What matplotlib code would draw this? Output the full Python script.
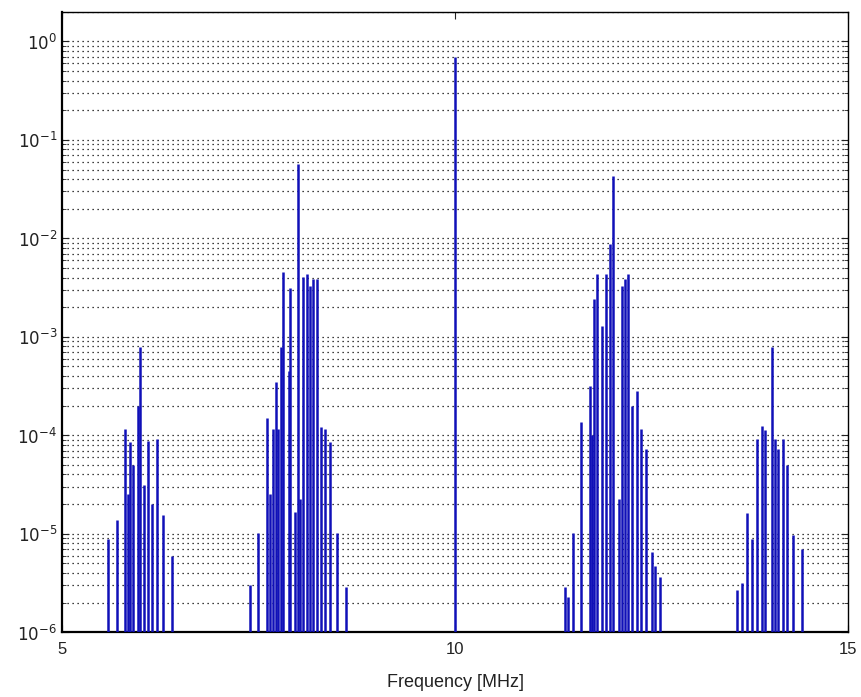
import numpy as np
import matplotlib
matplotlib.use("Agg")
import matplotlib.pyplot as plt
from matplotlib.ticker import LogLocator, FixedLocator, NullFormatter

# ---- data (frequency in MHz, amplitude) ----
carrier_freq = [10.00]
carrier_amp = [0.7]

left_small_freq = [5.59, 5.70, 5.80, 5.84, 5.87, 5.90, 5.97, 5.99, 6.04, 6.09, 6.15, 6.21, 6.28, 6.40]
left_small_exp = [-5.05, -4.86, -3.94, -4.6, -4.07, -4.3, -3.7, -3.1, -4.5, -4.06, -4.7, -4.04, -4.81, -5.23]

left_big_freq = [7.39, 7.49, 7.61, 7.65, 7.68, 7.72, 7.75, 7.79, 7.81, 7.89, 7.90, 7.96,
                 8.00, 8.03, 8.07, 8.12, 8.16, 8.19, 8.24, 8.30, 8.35, 8.41, 8.50, 8.61]
left_big_exp = [-5.52, -4.99, -3.82, -4.6, -3.94, -3.46, -3.94, -3.1, -2.34, -3.35, -2.5, -4.78,
                -1.24, -4.65, -2.39, -2.36, -2.48, -2.41, -2.41, -3.92, -3.94, -4.07, -4.99, -5.54]

right_big_freq = [11.40, 11.44, 11.50, 11.60, 11.72, 11.74, 11.77, 11.81, 11.87, 11.92, 11.97, 12.01,
                  12.09, 12.12, 12.16, 12.20, 12.25, 12.32, 12.37, 12.43, 12.51, 12.54, 12.61]
right_big_exp = [-5.54, -5.64, -4.99, -3.87, -3.5, -4.0, -2.62, -2.36, -2.89, -2.36, -2.06, -1.37,
                 -4.65, -2.48, -2.41, -2.36, -3.7, -3.55, -3.94, -4.14, -5.19, -5.33, -5.44]

right_small_freq = [13.59, 13.65, 13.72, 13.78, 13.84, 13.91, 13.94, 14.03, 14.07, 14.11, 14.17, 14.22, 14.30, 14.41]
right_small_exp = [-5.57, -5.5, -4.79, -5.05, -4.04, -3.91, -3.95, -3.1, -4.04, -4.14, -4.04, -4.3, -5.01, -5.16]

x_ticks = [5, 10, 15]
y_decades = [-6, -5, -4, -3, -2, -1, 0]

# ---- figure ----
plt.rcParams['font.family'] = ['Liberation Sans', 'DejaVu Sans']
fig = plt.figure(figsize=(8.61, 6.97), dpi=100)
ax = fig.add_axes([0.072, 0.093, 0.913, 0.890])

ymin, ymax = 1e-6, 2.0
line_color = '#1010b8'

freqs = (left_small_freq + left_big_freq + carrier_freq + right_big_freq + right_small_freq)
amps = ([10 ** e for e in left_small_exp] + [10 ** e for e in left_big_exp] + carrier_amp +
        [10 ** e for e in right_big_exp] + [10 ** e for e in right_small_exp])
ax.vlines(freqs, ymin, amps, colors=line_color, linewidth=1.8, zorder=3)

ax.set_yscale('log')
ax.set_xlim(5, 15)
ax.set_ylim(ymin, ymax)

ax.xaxis.set_major_locator(FixedLocator(x_ticks))
ax.set_xticklabels([str(t) for t in x_ticks])
ax.yaxis.set_major_locator(FixedLocator([10.0 ** d for d in y_decades]))
ax.set_yticklabels([r'$10^{%d}$' % d for d in y_decades])
ax.yaxis.set_minor_locator(LogLocator(base=10, subs=np.arange(2, 10), numticks=20))
ax.yaxis.set_minor_formatter(NullFormatter())

ax.tick_params(axis='both', which='both', direction='in', top=True, right=True,
               labelsize=12, colors='#222222')
ax.tick_params(axis='x', which='major', pad=7)
ax.tick_params(axis='both', which='major', length=5)
ax.tick_params(axis='y', which='minor', length=3)

ax.grid(True, axis='y', which='both', linestyle=(0, (1, 3)), color='black', linewidth=0.9)
ax.grid(False, axis='x')

for s in ax.spines.values():
    s.set_linewidth(1.0)
    s.set_color('black')
ax.spines['left'].set_linewidth(1.6)
ax.spines['bottom'].set_linewidth(1.6)

ax.set_xlabel('Frequency [MHz]', fontsize=13, color='#222222', labelpad=12)

fig.savefig('out.png', dpi=100)
